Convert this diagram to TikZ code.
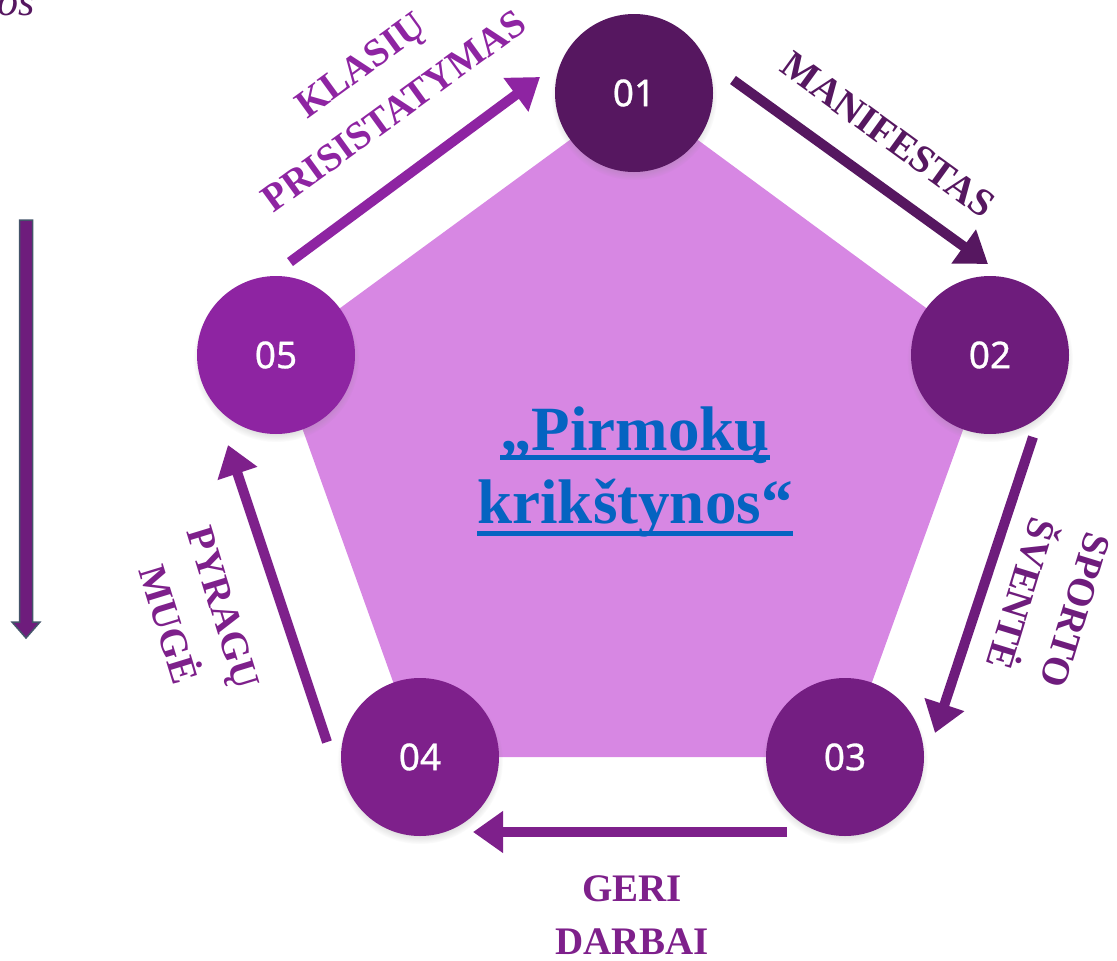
\documentclass[tikz,border=0pt]{standalone}
\usepackage{fontspec}
\setmainfont{Liberation Serif}
\newfontfamily\numfont[FakeBold=0.8]{Noto Sans}
\usetikzlibrary{arrows.meta}
\usetikzlibrary{shadows}
\usetikzlibrary{positioning}

\definecolor{stepone}{HTML}{561760}
\definecolor{steptwo}{HTML}{6E1C7C}
\definecolor{stepthree}{HTML}{741E82}
\definecolor{stepfour}{HTML}{7E208B}
\definecolor{stepfive}{HTML}{8E24A2}
\definecolor{pentfill}{HTML}{D787E3}
\definecolor{titleblue}{HTML}{0563C1}
\definecolor{slateline}{HTML}{44546A}

\begin{document}
\begin{tikzpicture} [x=1pt, y=-1pt,
            % ----- Node definitions ----- %
            stepnode/.style = {
                circle,
                minimum size = 158pt,
                inner sep = 0pt,
                fill = #1,
                text = white,
                font = \numfont\fontsize{37}{37}\selectfont,
                circular drop shadow = {shadow xshift=0pt, shadow yshift=-4pt,
                    shadow scale=1.05, opacity=.35}
            },
            steparrow/.style = {
                draw = #1,
                line width = 10pt,
                -{Triangle[length=30pt, width=40pt]}
            },
            steplabel/.style = {
                text = #1,
                inner sep = 0pt,
                align = center,
                font = \bfseries\fontsize{39}{57}\selectfont
            },
            titletext/.style = {
                text = titleblue,
                inner sep = 0pt,
                anchor = base,
                font = \bfseries\fontsize{63}{63}\selectfont
            },
            titleline/.style = {
                draw = titleblue,
                line width = 5pt
            },
    ]
    \useasboundingbox (0,0) rectangle (1117,961);

            % ----- Pentagon ----- %
        \coordinate (p1) at (634,93);
        \coordinate (p2) at (990,355);
        \coordinate (p3) at (845,757);
        \coordinate (p4) at (420,757);
        \coordinate (p5) at (276,355);
        \fill[pentfill] (p1) -- (p2) -- (p3) -- (p4) -- (p5) -- cycle;

            % ----- Node constructions ----- %
        \node [stepnode=stepone]   (c1) at (p1) {01};
        \node [stepnode=steptwo]   (c2) at (p2) {02};
        \node [stepnode=stepthree] (c3) at (p3) {03};
        \node [stepnode=stepfour]  (c4) at (p4) {04};
        \node [stepnode=stepfive]  (c5) at (p5) {05};

        \node [titletext] (pirm) at (635,450) {„Pirmokų};
        \node [titletext] (krik) at (635,523) {krikštynos“};
        \draw [titleline] ([yshift=-7pt]pirm.base west) -- ([yshift=-7pt]pirm.base east);
        \draw [titleline] ([yshift=-10pt]krik.base west) -- ([yshift=-10pt]krik.base east);

            % ----- Arrows ----- %
        \coordinate (a51s) at (290,262);  \coordinate (a51e) at (540,77);
        \coordinate (a12s) at (733,80);   \coordinate (a12e) at (988,264);
        \coordinate (a23s) at (1033,437); \coordinate (a23e) at (935,733);
        \coordinate (a34s) at (787,832);  \coordinate (a34e) at (473,832);
        \coordinate (a45s) at (327,742);  \coordinate (a45e) at (228,445);

        \draw [steparrow=stepfive]  (a51s) -- (a51e);
        \draw [steparrow=stepone]   (a12s) -- (a12e);
        \draw [steparrow=steptwo]   (a23s) -- (a23e);
        \draw [steparrow=stepfour]  (a34s) -- (a34e);
        \draw [steparrow=stepfour]  (a45s) -- (a45e);

            % ----- Labels ----- %
        \node [steplabel=stepfive, rotate=36]   (klas) at (377,88)   {KLASIŲ\\PRISISTATYMAS};
        \node [steplabel=stepone, rotate=-36]   (mani) at (888,135)  {MANIFESTAS};
        \node [steplabel=steptwo, rotate=-107]  (spor) at (1048,602) {SPORTO\\ŠVENTĖ};
        \node [steplabel=stepfour, font=\bfseries\fontsize{39}{53}\selectfont] (geri) at (632,915) {GERI\\DARBAI};
        \node [steplabel=stepfour, rotate=-73]  (pyra) at (196,616)  {PYRAGŲ\\MUGĖ};

            % ----- Left side ----- %
        \node [text=stepone, inner sep=0pt, anchor=base east,
               font=\itshape\fontsize{42}{42}\selectfont] (cutos) at (35,16) {os};
        \draw [fill=steptwo, draw=slateline, line width=1.5pt]
            (19.5,220) -- (32.5,220) -- (32.5,622) -- (40,622) -- (26,638)
            -- (12,622) -- (19.5,622) -- cycle;

\end{tikzpicture}
\end{document}
